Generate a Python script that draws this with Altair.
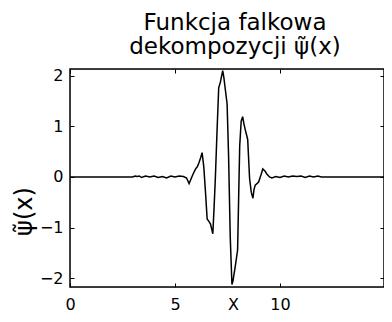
import altair as alt
import pandas as pd

xs = [0, 2.98, 3.1, 3.2, 3.3, 3.4, 3.6, 3.8, 4.0, 4.2, 4.4, 4.6, 4.8, 5.0, 5.2, 5.4, 5.55, 5.67,
      5.85, 5.98, 6.06, 6.14, 6.22, 6.29, 6.37, 6.45, 6.53, 6.62, 6.69, 6.8, 6.86, 6.92, 7.0,
      7.08, 7.16, 7.27, 7.33, 7.37, 7.48, 7.55, 7.63, 7.71, 7.76, 7.87, 7.98, 8.03, 8.08, 8.15,
      8.22, 8.28, 8.34, 8.46, 8.55, 8.63, 8.71, 8.76, 8.82, 8.98, 9.1, 9.18, 9.28, 9.37, 9.5,
      9.61, 9.8, 10.0, 10.2, 10.4, 10.6, 10.8, 11.0, 11.2, 11.4, 11.6, 11.8, 11.97, 14.95]
ys = [0, 0, 0.02, 0.01, 0.02, -0.01, 0.02, 0.0, 0.02, -0.01, 0.01, -0.02, 0.02, 0.0, 0.02, 0.01, -0.02, -0.13,
      0.05, 0.16, 0.2, 0.28, 0.38, 0.48, 0.2, -0.29, -0.83, -0.88, -0.93, -1.12, -0.6, -0.03, 0.9,
      1.76, 1.87, 2.1, 1.95, 1.81, 1.44, 0.42, -1.19, -2.12, -2.05, -1.76, -1.44, -0.4, 0.61, 1.1,
      1.19, 1.05, 0.94, 0.74, -0.03, -0.3, -0.42, -0.25, -0.16, -0.1, 0.05, 0.16, 0.12, 0.06, 0.0,
      -0.02, 0.01, -0.01, 0.02, 0.0, 0.02, 0.01, 0.02, -0.01, 0.02, 0.0, 0.02, 0, 0]

x_ticks = [0, 5, 10]
y_ticks = [-2, -1, 0, 1, 2]
title_lines = ["Funkcja falkowa", "dekompozycji \u03c8\u0303(x)"]
y_title = "\u03c8\u0303(x)"
x_title = "X"

df = pd.DataFrame({"x": xs, "y": ys})
FONT = "DejaVu Sans"

xscale = alt.Scale(domain=[0, 14.95], nice=False, zero=False)
yscale = alt.Scale(domain=[-2.17, 2.13], nice=False, zero=False)

main = alt.Chart(df).mark_line(color="black", strokeWidth=1.5).encode(
    x=alt.X("x:Q", scale=xscale, axis=alt.Axis(
        orient="bottom", values=x_ticks, domain=False, grid=False, offset=-4,
        tickSize=4, tickColor="black", labelPadding=9, labelFontSize=16,
        labelFont=FONT, labelColor="black", labelFlush=False, title=x_title, titleFont=FONT,
        titleFontSize=16, titleFontWeight="normal", titleColor="black",
        titleX=163, titleY=26, titleBaseline="alphabetic")),
    y=alt.Y("y:Q", scale=yscale, axis=alt.Axis(
        orient="left", values=y_ticks, domain=False, grid=False, offset=-4,
        tickSize=4, tickColor="black", labelPadding=7, labelFontSize=16,
        labelFont=FONT, labelColor="black", title=y_title, titleFont=FONT,
        titleFontSize=24, titleFontWeight="normal", titleColor="black",
        titleX=-50, titleY=142, titleAngle=270, titleAlign="center",
        titleBaseline="middle")),
    order="order:Q",
).transform_window(order="row_number()")

twin = alt.Chart(df).mark_line(opacity=0).encode(
    x=alt.X("x:Q", scale=xscale, axis=alt.Axis(
        orient="top", values=x_ticks, domain=False, grid=False, offset=-4,
        tickSize=4, tickColor="black", labels=False, title=None)),
    y=alt.Y("y:Q", scale=yscale, axis=alt.Axis(
        orient="right", values=y_ticks, domain=False, grid=False, offset=-4,
        tickSize=4, tickColor="black", labels=False, title=None)),
)

frame = alt.Chart(df).mark_rect(fill=None, stroke="black", strokeWidth=1.5).encode(
    x=alt.datum(0, scale=xscale, axis=None), x2=alt.datum(14.95),
    y=alt.datum(-2.17, scale=yscale, axis=None), y2=alt.datum(2.13),
).transform_filter("datum.x == 0").transform_filter("datum.y == 0")

chart = alt.layer(main, twin, frame).resolve_axis(x="independent", y="independent").properties(
    width=314, height=218,
    autosize=alt.AutoSizeParams(type="none"),
    padding={"left": 62, "top": 61, "right": 0, "bottom": 27},
    title=alt.TitleParams(title_lines, fontSize=23, font=FONT, fontWeight="normal",
                          color="black", anchor="middle", dx=8, offset=9, lineHeight=24),
).configure_view(stroke=None).configure(background="white")

chart.save("out.html", embed_options={"renderer": "svg", "actions": False})
